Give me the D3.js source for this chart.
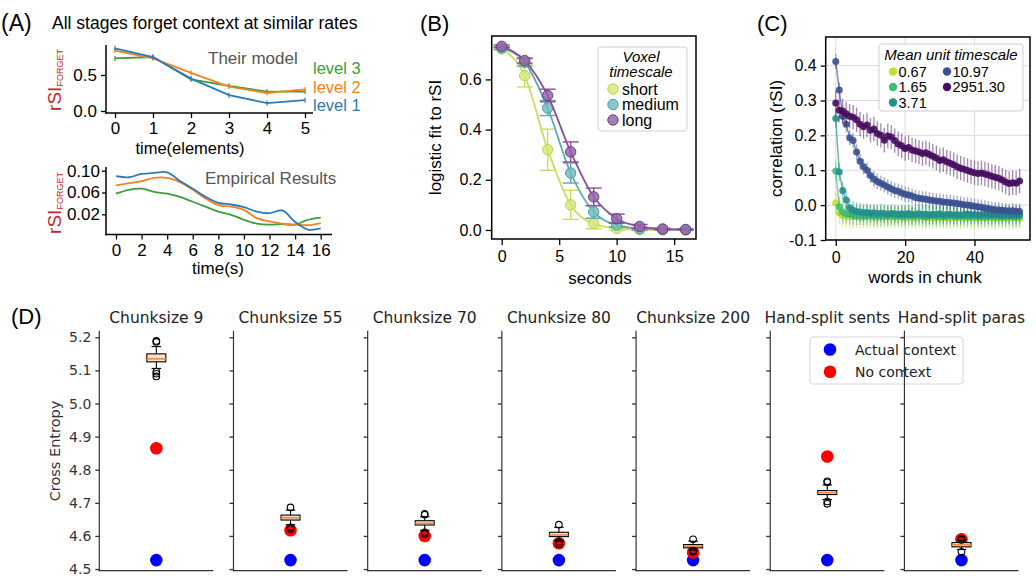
<!DOCTYPE html>
<html>
<head>
<meta charset="utf-8">
<script src="https://cdn.jsdelivr.net/npm/d3@7"></script>
<style>
  body { margin: 0; background: #fff; }
  svg { display: block; }
</style>
</head>
<body>
<svg id="fig" width="1036" height="577"></svg>
<script>
// ---------- data: panel A ----------
const modelTime = [0, 1, 2, 3, 4, 5];
const modelLevel1 = [0.87, 0.75, 0.45, 0.22, 0.11, 0.15];
const modelLevel2 = [0.84, 0.73, 0.53, 0.34, 0.25, 0.30];
const modelLevel3 = [0.73, 0.75, 0.44, 0.35, 0.27, 0.27];

const empTime = [0, 1, 2, 3, 4, 5, 6, 7, 8, 9, 10, 11, 12, 13, 14, 15, 16];
const empLevel1 = [0.090, 0.088, 0.094, 0.096, 0.097, 0.081, 0.067, 0.052, 0.041, 0.038, 0.033, 0.025, 0.022, 0.027, 0.006, -0.008, -0.006];
const empLevel2 = [0.073, 0.077, 0.081, 0.087, 0.087, 0.079, 0.065, 0.049, 0.037, 0.034, 0.028, 0.013, 0.007, 0.003, 0.001, 0.000, 0.004];
const empLevel3 = [0.058, 0.065, 0.067, 0.061, 0.058, 0.052, 0.043, 0.034, 0.025, 0.019, 0.010, 0.003, 0.001, 0.002, 0.001, 0.010, 0.014];

// ---------- data: panel B ----------
const voxelSeconds = [0, 2, 4, 6, 8, 10, 12, 14, 16];
const shortFit  = [0.722, 0.615, 0.320, 0.100, 0.025, 0.006, 0.001, 0.000, 0.000];
const shortErr  = [0.005, 0.045, 0.082, 0.058, 0.020, 0.008, 0.004, 0.002, 0.001];
const mediumFit = [0.725, 0.668, 0.486, 0.227, 0.072, 0.020, 0.005, 0.002, 0.001];
const mediumErr = [0.005, 0.015, 0.030, 0.040, 0.025, 0.010, 0.005, 0.002, 0.001];
const longFit   = [0.732, 0.675, 0.536, 0.311, 0.132, 0.045, 0.014, 0.004, 0.002];
const longErr   = [0.005, 0.010, 0.025, 0.040, 0.035, 0.018, 0.008, 0.003, 0.002];

// ---------- data: panel C ----------
const chunkWords = [0,1,2,3,4,5,6,7,8,9, 10,11,12,13,14,15,16,17,18,19, 20,21,22,23,24,25,26,27,28,29,
  30,31,32,33,34,35,36,37,38,39, 40,41,42,43,44,45,46,47,48,49, 50,51,52,53];
const tsLabels = ["0.67", "1.65", "3.71", "10.97", "2951.30"];
const ts067 = [0.006,-0.022,-0.030,-0.032,-0.033,-0.034,-0.033,-0.035,-0.034,-0.033,
  -0.035,-0.034,-0.036,-0.034,-0.035,-0.033,-0.035,-0.036,-0.034,-0.035,
  -0.036,-0.034,-0.035,-0.037,-0.035,-0.034,-0.036,-0.035,-0.037,-0.036,
  -0.034,-0.036,-0.035,-0.037,-0.036,-0.035,-0.037,-0.036,-0.035,-0.037,
  -0.036,-0.038,-0.036,-0.035,-0.037,-0.036,-0.038,-0.037,-0.036,-0.037,
  -0.038,-0.036,-0.037,-0.038];
const ts165 = [0.098,-0.005,-0.020,-0.025,-0.027,-0.028,-0.030,-0.029,-0.031,-0.030,
  -0.029,-0.031,-0.030,-0.032,-0.030,-0.031,-0.029,-0.031,-0.030,-0.032,
  -0.031,-0.030,-0.032,-0.031,-0.030,-0.031,-0.033,-0.031,-0.030,-0.032,
  -0.031,-0.033,-0.032,-0.030,-0.031,-0.033,-0.032,-0.031,-0.033,-0.032,
  -0.031,-0.033,-0.032,-0.034,-0.032,-0.031,-0.033,-0.032,-0.034,-0.033,
  -0.032,-0.033,-0.034,-0.032];
const ts371 = [0.248,0.095,0.042,0.015,-0.008,-0.015,-0.018,-0.020,-0.022,-0.021,
  -0.024,-0.022,-0.025,-0.023,-0.024,-0.026,-0.024,-0.025,-0.027,-0.025,
  -0.026,-0.024,-0.027,-0.026,-0.025,-0.027,-0.026,-0.028,-0.026,-0.027,
  -0.025,-0.028,-0.027,-0.026,-0.028,-0.027,-0.029,-0.027,-0.026,-0.028,
  -0.027,-0.029,-0.028,-0.026,-0.028,-0.029,-0.027,-0.028,-0.029,-0.027,
  -0.028,-0.029,-0.028,-0.027];
const ts1097 = [0.412,0.330,0.255,0.232,0.193,0.185,0.152,0.126,0.110,0.100,
  0.085,0.075,0.068,0.063,0.058,0.052,0.047,0.042,0.040,0.035,
  0.031,0.029,0.026,0.022,0.020,0.018,0.017,0.015,0.013,0.012,
  0.011,0.009,0.008,0.007,0.006,0.005,0.003,0.001,0.000,-0.001,
  -0.003,-0.005,-0.006,-0.008,-0.010,-0.012,-0.013,-0.014,-0.015,-0.016,
  -0.017,-0.016,-0.018,-0.018];
const ts2951 = [0.293,0.272,0.270,0.262,0.255,0.252,0.245,0.232,0.225,0.230,
  0.215,0.218,0.205,0.200,0.186,0.198,0.195,0.185,0.175,0.170,
  0.162,0.165,0.158,0.155,0.152,0.148,0.150,0.145,0.140,0.135,
  0.128,0.130,0.124,0.120,0.116,0.110,0.106,0.103,0.099,0.096,
  0.093,0.091,0.092,0.089,0.086,0.083,0.080,0.077,0.072,0.066,
  0.062,0.064,0.063,0.069];
const tsErr = [0.032, 0.028, 0.026, 0.022, 0.035];

// ---------- data: panel D ----------
const chunkNames = ["Chunksize 9", "Chunksize 55", "Chunksize 70", "Chunksize 80",
  "Chunksize 200", "Hand-split sents", "Hand-split paras"];
const actualCE    = [4.527, 4.527, 4.527, 4.527, 4.527, 4.527, 4.527];
const noContextCE = [4.865, 4.617, 4.600, 4.578, 4.550, 4.840, 4.590];
const boxQ1   = [5.126, 4.648, 4.633, 4.598, 4.564, 4.725, 4.567];
const boxMed  = [5.135, 4.655, 4.638, 4.603, 4.569, 4.730, 4.573];
const boxQ3   = [5.150, 4.663, 4.646, 4.611, 4.574, 4.737, 4.580];
const whiskLo = [5.106, 4.634, 4.617, 4.586, 4.557, 4.710, 4.559];
const whiskHi = [5.172, 4.678, 4.658, 4.626, 4.584, 4.754, 4.587];
const fliers  = [[5.186, 5.189, 5.096, 5.090, 5.082], [4.686, 4.626, 4.621], [4.667, 4.664, 4.611, 4.606],
  [4.634, 4.582, 4.575], [4.590, 4.556, 4.552], [4.765, 4.762, 4.704, 4.697], [4.591, 4.588, 4.552]];

// ---------- drawing ----------
const svg = d3.select("#fig");
const SANS = "'Liberation Sans', Arial, sans-serif";
const DJ = "'DejaVu Sans', sans-serif";

function styleAxis(g, font, size, color) {
  g.select(".domain").remove();
  g.selectAll("text").attr("font-family", font).attr("font-size", size).attr("fill", color);
  g.selectAll("line").attr("stroke", color).attr("stroke-width", 1.3);
  return g;
}
function seg(g, x1, y1, x2, y2, color, w) {
  return g.append("line").attr("x1", x1).attr("y1", y1).attr("x2", x2).attr("y2", y2)
    .attr("stroke", color).attr("stroke-width", w);
}
function label(g, x, y, txt, size, opts = {}) {
  return g.append("text").attr("x", x).attr("y", y).text(txt)
    .attr("font-family", opts.font || SANS).attr("font-size", size)
    .attr("fill", opts.fill || "#000").attr("text-anchor", opts.anchor || "start")
    .attr("font-style", opts.italic ? "italic" : null);
}
function vlabel(g, x, y, txt, size, opts = {}) {
  return g.append("text").attr("transform", `translate(${x},${y}) rotate(-90)`).text(txt)
    .attr("font-family", opts.font || SANS).attr("font-size", size)
    .attr("fill", opts.fill || "#000").attr("text-anchor", "middle");
}
function rsiLabel(g, x, y) {
  const t = g.append("text").attr("transform", `translate(${x},${y}) rotate(-90)`)
    .attr("text-anchor", "middle").attr("font-family", SANS).attr("fill", "#c1272d");
  t.append("tspan").attr("font-size", 19).text("rSI");
  t.append("tspan").attr("font-size", 9).attr("dy", 2).text("FORGET");
}

// ===== Panel A =====
const A = svg.append("g");
label(A, 1, 31, "(A)", 23);
label(A, 52, 29, "All stages forget context at similar rates", 17.5);

const aBlue = "#2b7bba", aOrange = "#f58220", aGreen = "#3a9e3a";

// top: their model
const ax1 = d3.scaleLinear([0, 5], [115, 305]);
const ay1 = d3.scaleLinear([0, 0.5], [111, 75]);
styleAxis(A.append("g").attr("transform", "translate(106,0)")
  .call(d3.axisLeft(ay1).tickValues([0, 0.5]).tickFormat(d3.format(".1f")).tickSize(5).tickPadding(4)), SANS, 17, "#000");
styleAxis(A.append("g").attr("transform", "translate(0,113)")
  .call(d3.axisBottom(ax1).tickValues(modelTime).tickFormat(d3.format("d")).tickSize(5).tickPadding(4)), SANS, 17, "#000");
seg(A, 106, 45, 106, 113.7, "#000", 1.5);
seg(A, 105.3, 113, 313, 113, "#000", 1.5);

const modelLine = d3.line().x((d, i) => ax1(modelTime[i])).y(d => ay1(d));
[[modelLevel3, aGreen], [modelLevel2, aOrange], [modelLevel1, aBlue]].forEach(([vals, c]) => {
  A.append("path").attr("d", modelLine(vals)).attr("fill", "none").attr("stroke", c).attr("stroke-width", 1.8);
  vals.forEach((v, i) => seg(A, ax1(modelTime[i]), ay1(v) - 2.5, ax1(modelTime[i]), ay1(v) + 2.5, c, 1.2));
});
label(A, 208, 64, "Their model", 17, { fill: "#555" });
label(A, 313, 74, "level 3", 16.5, { fill: aGreen });
label(A, 313, 92.5, "level 2", 16.5, { fill: aOrange });
label(A, 313, 111, "level 1", 16.5, { fill: aBlue });
label(A, 190, 154, "time(elements)", 16.5, { anchor: "middle" });
rsiLabel(A, 61, 80);

// bottom: empirical
const ax2 = d3.scaleLinear([0, 16], [116, 320.7]);
const ay2 = d3.scaleLinear([0.02, 0.10], [214.3, 170.7]);
styleAxis(A.append("g").attr("transform", "translate(106,0)")
  .call(d3.axisLeft(ay2).tickValues([0.02, 0.06, 0.10]).tickFormat(d3.format(".2f")).tickSize(4).tickPadding(2)), SANS, 17, "#000");
styleAxis(A.append("g").attr("transform", "translate(0,234.5)")
  .call(d3.axisBottom(ax2).tickValues(empTime.filter(t => t % 2 === 0)).tickFormat(d3.format("d")).tickSize(5).tickPadding(4)), SANS, 17, "#000");
seg(A, 106, 167, 106, 235.2, "#000", 1.5);
seg(A, 105.3, 234.5, 332, 234.5, "#000", 1.5);
const empLine = d3.line().x((d, i) => ax2(empTime[i])).y(d => ay2(d)).curve(d3.curveCatmullRom);
[[empLevel3, aGreen], [empLevel2, aOrange], [empLevel1, aBlue]].forEach(([vals, c]) => {
  A.append("path").attr("d", empLine(vals)).attr("fill", "none").attr("stroke", c).attr("stroke-width", 1.8);
});
label(A, 205, 184, "Empirical Results", 17, { fill: "#555" });
label(A, 218, 274, "time(s)", 17, { anchor: "middle" });
rsiLabel(A, 61, 203);

// ===== Panel B =====
const B = svg.append("g");
label(B, 420, 31, "(B)", 22);
const bx = d3.scaleLinear([-0.87, 16.9], [491.7, 696]);
const by = d3.scaleLinear([-0.036, 0.773], [239, 36]);
styleAxis(B.append("g").attr("transform", "translate(491.7,0)")
  .call(d3.axisLeft(by).tickValues([0, 0.2, 0.4, 0.6]).tickFormat(d3.format(".1f")).tickSize(6).tickPadding(4)), SANS, 16, "#000");
styleAxis(B.append("g").attr("transform", "translate(0,239)")
  .call(d3.axisBottom(bx).tickValues([0, 5, 10, 15]).tickSize(6).tickPadding(6)), SANS, 16, "#000");

const voxelSeries = [
  { name: "short", vals: shortFit, err: shortErr, line: "#c9de5e", fill: "#d6e77e", edge: "#bcd443" },
  { name: "medium", vals: mediumFit, err: mediumErr, line: "#5aabb0", fill: "#77bcc0", edge: "#4a9fa6" },
  { name: "long", vals: longFit, err: longErr, line: "#86509a", fill: "#9469a6", edge: "#6e3a84" }
];
const bLine = d3.line().x((d, i) => bx(voxelSeconds[i])).y(d => by(d)).curve(d3.curveMonotoneX);
voxelSeries.forEach(s => {
  const g = B.append("g");
  g.append("path").attr("d", bLine(s.vals)).attr("fill", "none").attr("stroke", s.line).attr("stroke-width", 1.8);
  s.vals.forEach((v, i) => {
    const x = bx(voxelSeconds[i]);
    seg(g, x, by(v - s.err[i]), x, by(v + s.err[i]), s.line, 1.4);
    seg(g, x - 8, by(v - s.err[i]), x + 8, by(v - s.err[i]), s.line, 1.4);
    seg(g, x - 8, by(v + s.err[i]), x + 8, by(v + s.err[i]), s.line, 1.4);
  });
  g.selectAll("circle").data(s.vals).join("circle")
    .attr("cx", (d, i) => bx(voxelSeconds[i])).attr("cy", d => by(d)).attr("r", 5.2)
    .attr("fill", s.fill).attr("fill-opacity", 0.85).attr("stroke", s.edge).attr("stroke-width", 1);
});
B.append("rect").attr("x", 491.7).attr("y", 36).attr("width", 696 - 491.7).attr("height", 239 - 36)
  .attr("fill", "none").attr("stroke", "#000").attr("stroke-width", 1.5);
// legend
B.append("rect").attr("x", 598).attr("y", 47).attr("width", 89).attr("height", 84).attr("rx", 3)
  .attr("fill", "#fff").attr("fill-opacity", 0.85).attr("stroke", "#d0d0d0");
label(B, 641, 62, "Voxel", 15, { anchor: "middle", italic: true });
label(B, 641, 77, "timescale", 15, { anchor: "middle", italic: true });
voxelSeries.forEach((s, i) => {
  const cy = 89 + i * 15.5;
  B.append("circle").attr("cx", 613).attr("cy", cy).attr("r", 5.2)
    .attr("fill", s.fill).attr("fill-opacity", 0.85).attr("stroke", s.edge);
  label(B, 622, cy + 5.5, s.name, 16);
});
label(B, 600, 284, "seconds", 17, { anchor: "middle" });
vlabel(B, 441, 137.5, "logistic fit to rSI", 17);

// ===== Panel C =====
const C = svg.append("g");
label(C, 757, 31, "(C)", 22);
const cx = d3.scaleLinear([-2.9, 56], [825.7, 1030]);
const cy = d3.scaleLinear([-0.1, 0.482], [240, 37]);
const cYTicks = [-0.1, 0, 0.1, 0.2, 0.3, 0.4];
const cXTicks = [0, 20, 40];
cXTicks.forEach(t => seg(C, cx(t), 37, cx(t), 240, "#dcdcdc", 1));
cYTicks.forEach(t => seg(C, 825.7, cy(t), 1030, cy(t), "#dcdcdc", 1));
styleAxis(C.append("g").attr("transform", "translate(825.7,0)")
  .call(d3.axisLeft(cy).tickValues(cYTicks).tickFormat(d => d.toFixed(1)).tickSize(5).tickPadding(4)), SANS, 16, "#000");
styleAxis(C.append("g").attr("transform", "translate(0,240)")
  .call(d3.axisBottom(cx).tickValues(cXTicks).tickSize(6).tickPadding(6)), SANS, 16, "#000");

const tsSeries = [ts067, ts165, ts371, ts1097, ts2951];
const tsColors = ["#c3df2e", "#3fbc73", "#23908c", "#3c5190", "#470d5f"];
const cLine = d3.line().x((d, i) => cx(chunkWords[i])).y(d => cy(d));
tsSeries.forEach((vals, k) => {
  const g = C.append("g");
  vals.forEach((v, i) => {
    const x = cx(chunkWords[i]);
    seg(g, x, cy(v - tsErr[k]), x, cy(v + tsErr[k]), tsColors[k], 1.3).attr("stroke-opacity", 0.5);
  });
  g.append("path").attr("d", cLine(vals)).attr("fill", "none").attr("stroke", tsColors[k])
    .attr("stroke-width", 1.4).attr("stroke-opacity", 0.7);
  g.selectAll("circle").data(vals).join("circle")
    .attr("cx", (d, i) => cx(chunkWords[i])).attr("cy", d => cy(d)).attr("r", 3.5)
    .attr("fill", tsColors[k]).attr("fill-opacity", 0.9);
});
C.append("rect").attr("x", 825.7).attr("y", 37).attr("width", 1030 - 825.7).attr("height", 240 - 37)
  .attr("fill", "none").attr("stroke", "#000").attr("stroke-width", 1.5);
// legend
C.append("rect").attr("x", 879).attr("y", 44).attr("width", 144).attr("height", 67).attr("rx", 3)
  .attr("fill", "#fff").attr("fill-opacity", 0.85).attr("stroke", "#d0d0d0");
label(C, 951, 59.5, "Mean unit timescale", 15, { anchor: "middle", italic: true });
tsLabels.forEach((t, k) => {
  const col = k < 3 ? 0 : 1, row = k < 3 ? k : k - 3;
  const mx = col === 0 ? 893 : 947, my = 71.5 + row * 15.5;
  C.append("circle").attr("cx", mx).attr("cy", my).attr("r", 4.2).attr("fill", tsColors[k]);
  label(C, mx + 5.5, my + 5, t, 14.5);
});
label(C, 925, 283, "words in chunk", 17, { anchor: "middle" });
vlabel(C, 782, 138.5, "correlation (rSI)", 17);

// ===== Panel D =====
const D = svg.append("g");
label(D, 11, 324, "(D)", 22);
const dBand = d3.scaleBand().domain(chunkNames).range([99.3, 1018.5]).paddingInner(0.15).paddingOuter(0);
const dy = d3.scaleLinear([4.495, 5.22], [570.7, 330.7]);
const dTicks = [4.5, 4.6, 4.7, 4.8, 4.9, 5.0, 5.1, 5.2];
const dText = "#333";
vlabel(D, 60, 451, "Cross Entropy", 14.5, { font: DJ, fill: dText });

function drawSubplot(i) {
  const name = chunkNames[i];
  const x0 = dBand(name), w = dBand.bandwidth(), xc = x0 + w / 2;
  const g = D.append("g");
  const ax = d3.axisLeft(dy).tickValues(dTicks).tickSize(4).tickPadding(4)
    .tickFormat(i === 0 ? d3.format(".1f") : () => "");
  styleAxis(g.append("g").attr("transform", `translate(${x0},0)`).call(ax), DJ, 14, dText);
  seg(g, x0, 330.7, x0, 571.3, dText, 1.2);
  seg(g, x0 - 0.6, 570.7, x0 + w, 570.7, dText, 1.2);
  label(g, xc, 323, name, 15.5, { font: DJ, fill: "#222", anchor: "middle" });
  // scatter
  g.append("circle").attr("cx", xc).attr("cy", dy(actualCE[i])).attr("r", 6.3).attr("fill", "#0000ff");
  g.append("circle").attr("cx", xc).attr("cy", dy(noContextCE[i])).attr("r", 6.3).attr("fill", "#ff0000");
  // boxplot
  const bw = 19;
  seg(g, xc, dy(boxQ3[i]), xc, dy(whiskHi[i]), "#000", 1.1);
  seg(g, xc, dy(boxQ1[i]), xc, dy(whiskLo[i]), "#000", 1.1);
  seg(g, xc - bw / 4, dy(whiskHi[i]), xc + bw / 4, dy(whiskHi[i]), "#000", 1.1);
  seg(g, xc - bw / 4, dy(whiskLo[i]), xc + bw / 4, dy(whiskLo[i]), "#000", 1.1);
  g.append("rect").attr("x", xc - bw / 2).attr("y", dy(boxQ3[i])).attr("width", bw)
    .attr("height", dy(boxQ1[i]) - dy(boxQ3[i])).attr("fill", "#fbe3d2").attr("stroke", "#000").attr("stroke-width", 1.1);
  seg(g, xc - bw / 2, dy(boxMed[i]), xc + bw / 2, dy(boxMed[i]), "#f08a3c", 1.6);
  g.selectAll("circle.flier").data(fliers[i]).join("circle").attr("class", "flier")
    .attr("cx", xc).attr("cy", d => dy(d)).attr("r", 3.3)
    .attr("fill", "none").attr("stroke", "#000").attr("stroke-width", 1.1);
}
for (let i = 0; i < 6; i++) drawSubplot(i);
// legend (drawn before the last subplot so its spine shows through)
D.append("rect").attr("x", 810).attr("y", 337).attr("width", 153).attr("height", 47).attr("rx", 3)
  .attr("fill", "#fff").attr("fill-opacity", 0.8).attr("stroke", "#d6d6d6");
D.append("circle").attr("cx", 830).attr("cy", 349.5).attr("r", 6.3).attr("fill", "#0000ff");
D.append("circle").attr("cx", 830).attr("cy", 371.7).attr("r", 6.3).attr("fill", "#ff0000");
label(D, 855, 354.5, "Actual context", 14, { font: DJ, fill: "#222" });
label(D, 855, 376.7, "No context", 14, { font: DJ, fill: "#222" });
drawSubplot(6);
</script>
</body>
</html>
